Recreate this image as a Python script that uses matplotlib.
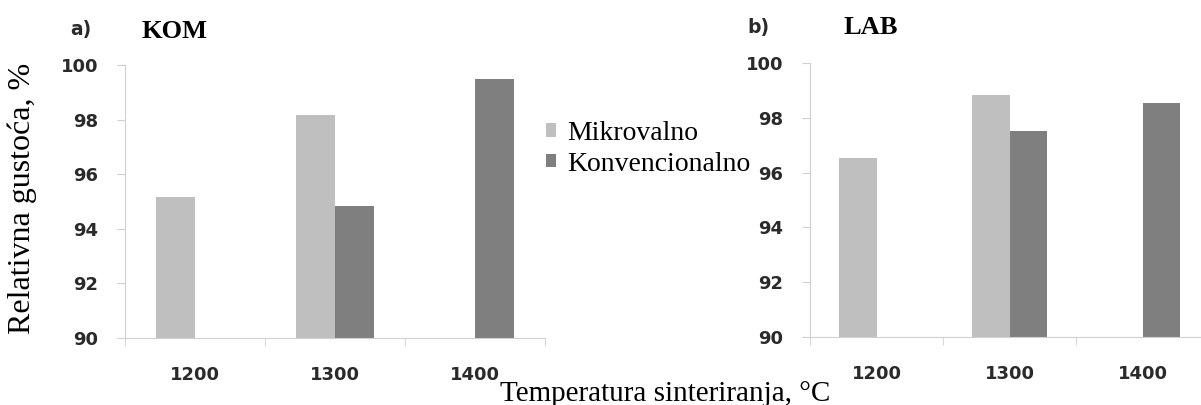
import matplotlib.pyplot as plt
import numpy as np

temperatures = ["1200", "1300", "1400"]
series_names = ["Mikrovalno", "Konvencionalno"]
kom_mikro = [95.15, 98.18, np.nan]
kom_konv = [np.nan, 94.82, 99.48]
lab_mikro = [96.55, 98.83, np.nan]
lab_konv = [np.nan, 97.5, 98.53]
y_ticks = [90, 92, 94, 96, 98, 100]

light = "#bfbfbf"
dark = "#7f7f7f"
spine_c = "#d0d0d0"
txt_c = "#2a2a2a"

fig = plt.figure(figsize=(12.01, 4.05), dpi=100)
ax_a = fig.add_axes([125 / 1201, 67 / 405, 420 / 1201, 273 / 405])
ax_b = fig.add_axes([810 / 1201, 68 / 405, 399 / 1201, 274 / 405])

x = np.arange(len(temperatures))
w = 0.28


def draw(ax, mikro, konv):
    # bars start at the bottom of the axis (90)
    ax.bar(x - w / 2, np.array(mikro) - 90, w, bottom=90, color=light,
           label=series_names[0])
    ax.bar(x + w / 2, np.array(konv) - 90, w, bottom=90, color=dark,
           label=series_names[1])
    ax.set_ylim(90, 100)
    ax.set_xlim(-0.5, 2.5)
    ax.set_yticks(y_ticks)
    ax.set_yticklabels([str(t) for t in y_ticks], fontfamily="DejaVu Sans",
                       fontweight="bold", fontsize=13, color=txt_c)
    ax.set_xticks(x)
    ax.set_xticklabels(temperatures, fontfamily="DejaVu Sans",
                       fontweight="bold", fontsize=13, color=txt_c)
    ax.set_xticks([-0.5, 0.5, 1.5, 2.5], minor=True)
    ax.tick_params(axis="x", which="major", length=0, pad=20)
    ax.tick_params(axis="x", which="minor", length=6, color=spine_c)
    ax.tick_params(axis="y", length=6, color=spine_c, pad=13)
    for s in ["top", "right"]:
        ax.spines[s].set_visible(False)
    for s in ["left", "bottom"]:
        ax.spines[s].set_color(spine_c)


draw(ax_a, kom_mikro, kom_konv)
draw(ax_b, lab_mikro, lab_konv)

fig.text(70 / 1201, 1 - 29 / 405, "a)", fontfamily="DejaVu Sans",
         fontweight="bold", fontsize=13.5, ha="left", va="center", color=txt_c)
fig.text(142 / 1201, 1 - 32 / 405, "KOM", fontfamily="Liberation Serif",
         fontweight="bold", fontsize=19, ha="left", va="center")
fig.text(747 / 1201, 1 - 27 / 405, "b)", fontfamily="DejaVu Sans",
         fontweight="bold", fontsize=13.5, ha="left", va="center", color=txt_c)
fig.text(843 / 1201, 1 - 28 / 405, "LAB", fontfamily="Liberation Serif",
         fontweight="bold", fontsize=19, ha="left", va="center")

fig.text(22 / 1201, 1 - 198 / 405, "Relativna gustoća, %", rotation=90,
         fontfamily="Liberation Serif", fontsize=23, ha="center", va="center")
fig.text(665 / 1201, 1 - 394 / 405, "Temperatura sinteriranja, °C",
         fontfamily="Liberation Serif", fontsize=21, ha="center", va="center")

handles, labels = ax_a.get_legend_handles_labels()
fig.legend(handles, labels, loc="upper left",
           bbox_to_anchor=(546 / 1201, 1 - 121 / 405), frameon=False,
           prop={"family": "Liberation Serif", "size": 20},
           handlelength=0.36, handleheight=0.36, handletextpad=0.4,
           labelspacing=0.2, borderaxespad=0, borderpad=0)

fig.savefig("out.png", dpi=100)
